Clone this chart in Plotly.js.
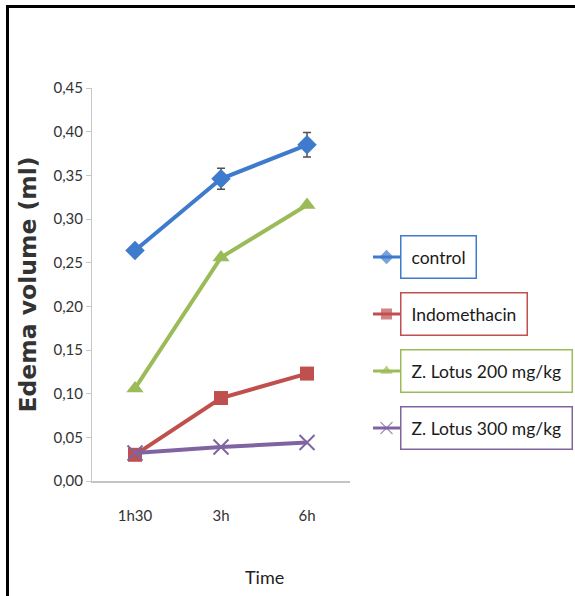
<!DOCTYPE html>
<html>
<head>
<meta charset="utf-8">
<script src="https://cdn.plot.ly/plotly-3.0.1.min.js"></script>
<style>
  html, body { margin: 0; padding: 0; background: #fff; }
  #wrap { position: relative; width: 575px; height: 596px; overflow: hidden; }
  #chart { position: absolute; left: 0; top: 0; width: 575px; height: 596px; }
  #frame { position: absolute; left: 6px; top: 5px; width: 575px; height: 600px;
           border-left: 3px solid #000; border-top: 3px solid #000; pointer-events: none; }
</style>
</head>
<body>
<div id="wrap"><div id="chart"></div><div id="frame"></div></div>
<script>
// ---- data ----
var timePoints = ["1h30", "3h", "6h"];
var seriesNames = ["control", "Indomethacin", "Z. Lotus 200 mg/kg", "Z. Lotus 300 mg/kg"];
var control      = [0.264, 0.346, 0.385];
var controlErr   = [0.005, 0.012, 0.014];
var indomethacin = [0.030, 0.095, 0.123];
var lotus200     = [0.106, 0.256, 0.316];
var lotus300     = [0.032, 0.039, 0.044];
var yTicks       = [0, 0.05, 0.10, 0.15, 0.20, 0.25, 0.30, 0.35, 0.40, 0.45];

var seriesValues = [control, indomethacin, lotus200, lotus300];
var colors  = ["#3f7bcc", "#c0504d", "#9bbb59", "#8064a2"];
var symbols = ["diamond", "square", "triangle-up", "x-thin"];
var msize   = [15, 14, 15, 15];
var lsize   = [11, 11, 11, 12];

var FONT = "Lato, 'Open Sans', Arial, sans-serif";

var traces = [];
seriesValues.forEach(function (vals, i) {
  var t = {
    type: "scatter", mode: "lines+markers",
    x: timePoints, y: vals, name: seriesNames[i],
    xaxis: "x", yaxis: "y", showlegend: false, cliponaxis: false,
    line: { color: colors[i], width: 4 },
    marker: { symbol: symbols[i], size: msize[i], color: colors[i],
              line: { color: colors[i], width: symbols[i] === "x-thin" ? 2 : 0 } }
  };
  if (i === 0) {
    t.error_y = { type: "data", array: controlErr, visible: true,
                  color: "#505050", thickness: 1.5, width: 4 };
  }
  traces.push(t);
});

// legend symbols drawn on a small helper axis (index-based positions)
var annotations = [];
seriesNames.forEach(function (nm, i) {
  traces.push({
    type: "scatter", mode: "lines+markers",
    x: [0, 1, 2], y: [i, i, i], xaxis: "x2", yaxis: "y2",
    showlegend: false, hoverinfo: "skip", cliponaxis: false,
    line: { color: colors[i], width: 3 },
    marker: { symbol: symbols[i], size: [0, lsize[i], 0], color: colors[i],
              line: { color: colors[i], width: symbols[i] === "x-thin" ? 1.2 : 0 } }
  });
  annotations.push({
    xref: "x2", yref: "y2", x: 2, y: i, xanchor: "left", yanchor: "middle",
    text: nm, showarrow: false,
    font: { family: FONT, size: 17.5, color: "#1a1a1a" },
    bordercolor: colors[i], borderwidth: 1.5, borderpad: 10, bgcolor: "#fff"
  });
});

annotations.push({
  xref: "paper", yref: "paper", x: 0.358, y: -0.245, xanchor: "center", yanchor: "middle",
  text: "Time", showarrow: false,
  font: { family: FONT, size: 18, color: "#222" }
});

var layout = {
  width: 575, height: 596,
  margin: { l: 92, r: 0, t: 88, b: 115 },
  paper_bgcolor: "#fff", plot_bgcolor: "#fff",
  separators: ", ",
  showlegend: false,
  xaxis: {
    domain: [0, 0.5342], type: "category", range: [-0.5, 2.5],
    showgrid: false, zeroline: false,
    showline: true, linecolor: "#c4c4c4", linewidth: 2,
    ticks: "", ticklabelstandoff: 20,
    tickfont: { family: FONT, size: 15, color: "#333" }
  },
  yaxis: {
    domain: [0, 1], range: [0, 0.45],
    tickvals: yTicks, tickformat: ".2f",
    showgrid: false, zeroline: false,
    showline: true, linecolor: "#c8c8c8", linewidth: 1,
    ticks: "outside", ticklen: 5, tickcolor: "#c8c8c8",
    tickfont: { family: FONT, size: 15, color: "#333" },
    title: { text: "Edema volume (ml)", standoff: 10,
             font: { family: "'DejaVu Sans', Arial, sans-serif", size: 23.5, color: "#333", weight: "bold" } }
  },
  xaxis2: { domain: [0.5818, 0.6377], range: [0, 2], visible: false, fixedrange: true },
  yaxis2: { domain: [0.0623, 0.6425], range: [3.5, -0.5], visible: false, fixedrange: true },
  annotations: annotations
};

Plotly.newPlot("chart", traces, layout, { displayModeBar: false, staticPlot: true });
</script>
</body>
</html>
